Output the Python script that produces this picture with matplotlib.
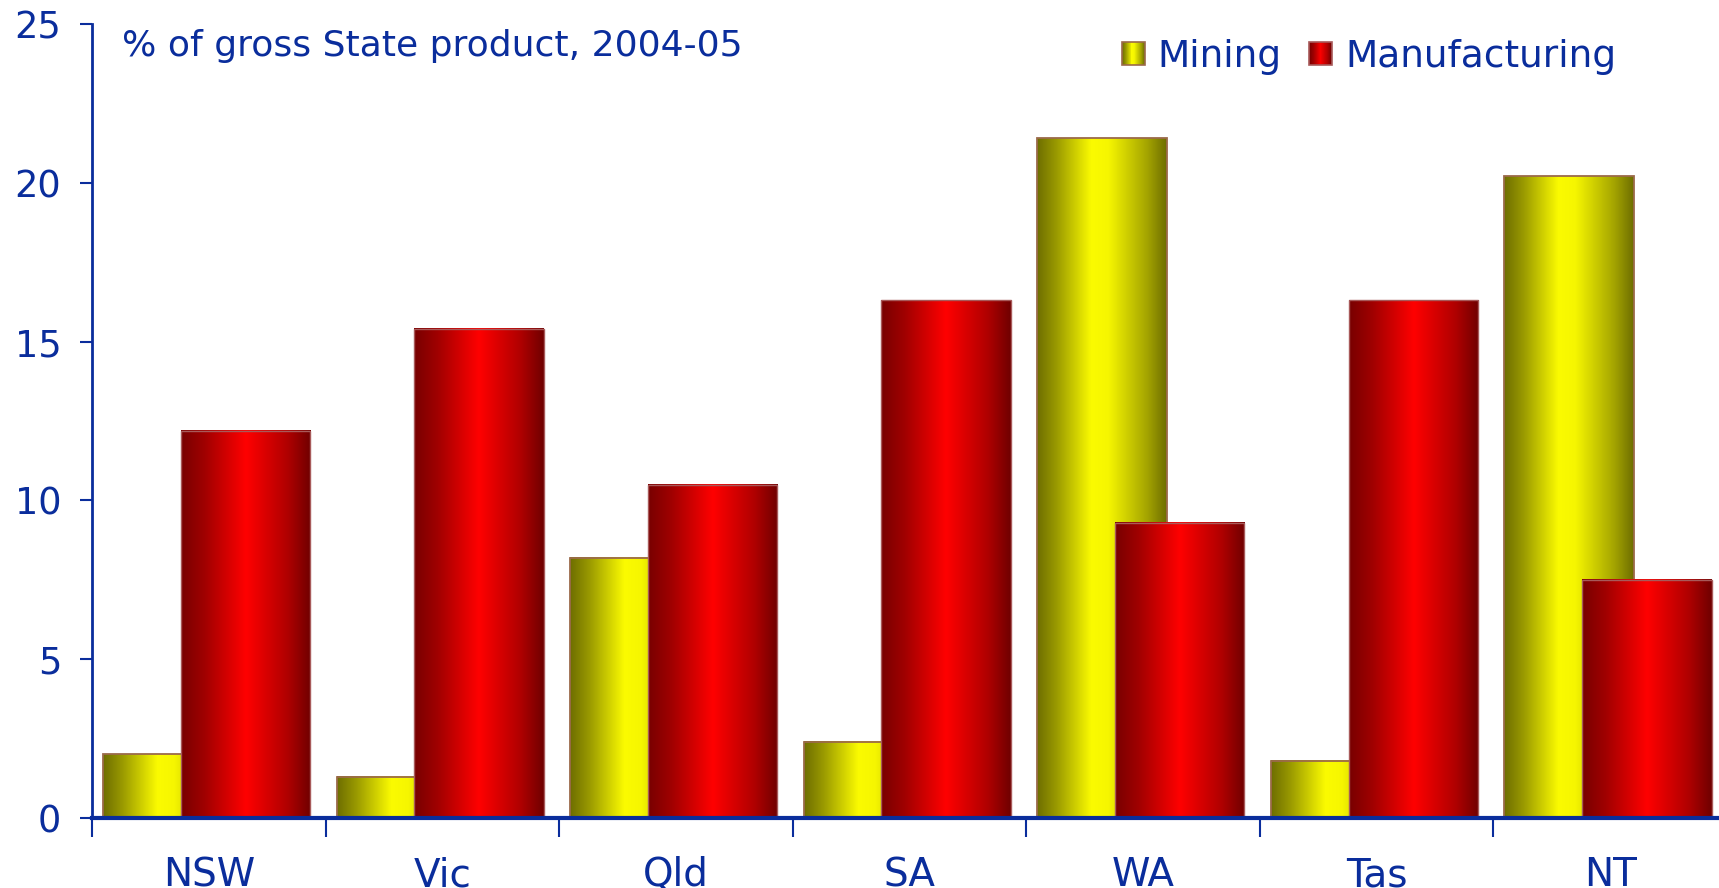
import numpy as np
import matplotlib.pyplot as plt
from matplotlib.colors import LinearSegmentedColormap
from matplotlib.legend_handler import HandlerBase
from matplotlib.patches import Rectangle

states = ['NSW', 'Vic', 'Qld', 'SA', 'WA', 'Tas', 'NT']
mining = [2.0, 1.3, 8.2, 2.4, 21.4, 1.8, 20.2]
manufacturing = [12.2, 15.4, 10.5, 16.3, 9.3, 16.3, 7.5]

blue = '#0a2d9c'
plt.rcParams['font.family'] = ['DejaVu Sans']

# cylinder-like shading across each bar
ycmap = LinearSegmentedColormap.from_list('yel', [(0, '#6e6e00'), (0.15, '#9a9a00'), (0.42, '#fbfb00'),
                                                 (0.55, '#f6f600'), (0.85, '#a4a400'), (1, '#6e6e00')])
rcmap = LinearSegmentedColormap.from_list('red', [(0, '#780000'), (0.18, '#a00000'), (0.5, '#ff0000'),
                                                 (0.82, '#b00000'), (1, '#700000')])


class GradHandler(HandlerBase):
    def __init__(self, cmap, edge):
        super().__init__()
        self.cmap = cmap
        self.edge = edge

    def create_artists(self, legend, orig_handle, xdescent, ydescent, width, height, fontsize, trans):
        side = height
        x0 = -xdescent + width - side
        y0 = -ydescent
        n = 24
        arts = []
        for i in range(n):
            arts.append(Rectangle((x0 + i * side / n, y0), side / n + 0.3, side,
                                  facecolor=self.cmap(i / (n - 1)), edgecolor='none', transform=trans))
        arts.append(Rectangle((x0, y0), side, side, facecolor='none', edgecolor=self.edge,
                              lw=1.2, transform=trans))
        return arts


fig = plt.figure(figsize=(17.19, 8.88), dpi=100)
ax = fig.add_axes([92 / 1719, 70 / 888, 1635 / 1719, 794 / 888])

x = np.arange(len(states))
w = 0.554
b1 = ax.bar(x - 0.176, mining, w, facecolor='none', edgecolor='#9b6a4a', lw=1.3, zorder=3)
b2 = ax.bar(x + 0.157, manufacturing, w, facecolor='none', edgecolor='#a85a5a', lw=1.0, zorder=5)

grad = np.linspace(0, 1, 256).reshape(1, -1)
for bars, cmap, z in ((b1, ycmap, 2), (b2, rcmap, 4)):
    for p in bars:
        x0, y0 = p.get_x(), p.get_y()
        ax.imshow(grad, cmap=cmap, extent=[x0, x0 + p.get_width(), y0, y0 + p.get_height()],
                  aspect='auto', zorder=z, interpolation='bilinear')

ax.set_xlim(-0.5, len(states) - 0.5)
ax.set_ylim(0, 25)

ax.set_xticks(np.arange(-0.5, len(states), 1))
ax.set_xticklabels([])
ax.set_xticks(x, minor=True)
ax.set_xticklabels(states, minor=True)
ax.tick_params(axis='x', which='major', length=14, width=1.5, color=blue, direction='out')
ax.tick_params(axis='x', which='minor', length=0, pad=27.5, labelsize=28, labelcolor=blue)

ax.set_yticks(range(0, 26, 5))
ax.tick_params(axis='y', length=8.6, width=1.5, color=blue, pad=13.5, labelsize=26.5, labelcolor=blue)

for s in ['top', 'right']:
    ax.spines[s].set_visible(False)
ax.spines['left'].set_color(blue)
ax.spines['left'].set_linewidth(2)
ax.spines['bottom'].set_color(blue)
ax.spines['bottom'].set_linewidth(3)
ax.spines['bottom'].set_zorder(6)

fig.text(122 / 1719, 1 - 56 / 888, '% of gross State product, 2004-05', fontsize=26,
         color=blue, va='baseline', ha='left')

h1 = Rectangle((0, 0), 1, 1)
h2 = Rectangle((0, 0), 1, 1)
leg = fig.legend([h1, h2], ['Mining', 'Manufacturing'], loc='center right',
                 bbox_to_anchor=(1616 / 1719, 1 - 57 / 888), ncol=2, frameon=False,
                 fontsize=27, labelcolor=blue, handlelength=0.55, handleheight=0.55,
                 handletextpad=0.35, columnspacing=0.78, borderpad=0, borderaxespad=0,
                 handler_map={h1: GradHandler(ycmap, '#9b6a4a'), h2: GradHandler(rcmap, '#a85a5a')})

fig.savefig('out.png', dpi=100)
